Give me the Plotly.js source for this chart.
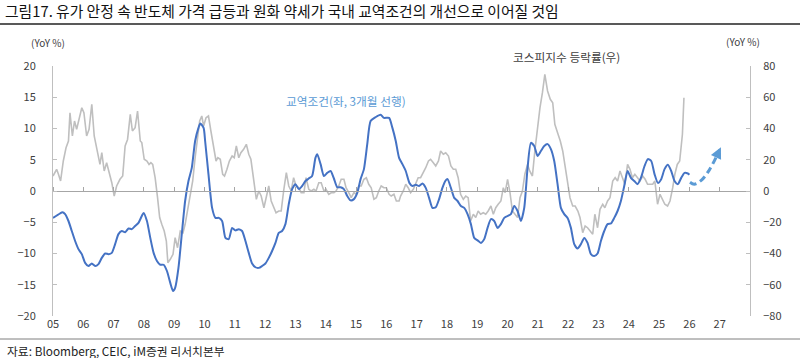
<!DOCTYPE html>
<html>
<head>
<meta charset="utf-8">
<script src="https://cdn.plot.ly/plotly-3.0.1.min.js"></script>
<style>html,body{margin:0;padding:0;background:#fff;}#chart{width:800px;height:358px;}</style>
</head>
<body>
<div id="chart"></div>
<script>
// ---- Data ----
const titleText = '그림17. 유가 안정 속 반도체 가격 급등과 원화 약세가 국내 교역조건의 개선으로 이어질 것임';
const sourceText = '자료: Bloomberg, CEIC, iM증권 리서치본부';
const tradeName = '교역조건(좌, 3개월 선행)';
const kospiName = '코스피지수 등락률(우)';

const yearTicks = [2005,2006,2007,2008,2009,2010,2011,2012,2013,2014,2015,2016,2017,2018,2019,2020,2021,2022,2023,2024,2025,2026,2027];
const yearLabels = ['05','06','07','08','09','10','11','12','13','14','15','16','17','18','19','20','21','22','23','24','25','26','27'];
const leftTicks = [20,15,10,5,0,-5,-10,-15,-20];
const rightTicks = [80,60,40,20,0,-20,-40,-60,-80];

// Terms of trade YoY % (left axis, 3-month lead)
const tradeX = [2005.00,2005.23,2005.31,2005.40,2005.51,2005.62,2005.73,2005.84,2005.95,2006.06,2006.17,2006.28,2006.39,2006.50,2006.61,2006.72,2006.83,2006.94,
2007.05,2007.16,2007.27,2007.38,2007.49,2007.60,2007.71,2007.82,2007.93,2007.99,2008.10,2008.21,2008.32,2008.43,2008.54,2008.65,2008.76,2008.87,2008.96,
2009.03,2009.14,2009.25,2009.36,2009.47,2009.58,2009.69,2009.80,2009.86,2009.97,2010.02,2010.13,2010.25,2010.36,2010.47,2010.58,2010.69,2010.80,2010.91,
2011.02,2011.13,2011.24,2011.35,2011.46,2011.57,2011.68,2011.79,2011.90,2012.01,2012.12,2012.23,2012.34,2012.45,2012.56,2012.67,2012.78,2012.89,
2013.00,2013.11,2013.22,2013.33,2013.44,2013.55,2013.66,2013.72,2013.83,2013.94,2014.05,2014.16,2014.27,2014.38,2014.49,2014.60,2014.71,2014.82,2014.93,
2015.04,2015.15,2015.26,2015.37,2015.48,2015.64,2015.81,2015.92,2016.09,2016.20,2016.31,2016.42,2016.53,2016.64,2016.76,2016.86,2016.97,
2017.08,2017.19,2017.30,2017.41,2017.52,2017.63,2017.74,2017.85,2017.96,2018.02,2018.13,2018.24,2018.35,2018.46,2018.57,2018.68,2018.79,2018.90,
2019.01,2019.12,2019.23,2019.34,2019.45,2019.56,2019.67,2019.78,2019.89,2020.00,2020.11,2020.22,2020.33,2020.44,2020.55,2020.66,2020.77,2020.88,2020.99,
2021.10,2021.21,2021.32,2021.43,2021.54,2021.65,2021.76,2021.87,2021.98,2022.09,2022.20,2022.31,2022.42,2022.53,2022.64,2022.75,2022.86,2022.97,
2023.08,2023.19,2023.30,2023.41,2023.52,2023.63,2023.74,2023.85,2023.96,2024.07,2024.18,2024.29,2024.40,2024.52,2024.63,2024.74,2024.85,2024.96,
2025.07,2025.18,2025.29,2025.40,2025.51,2025.62,2025.73,2025.84,2025.95,2026.00];
const tradeY = [-4.3,-3.6,-3.4,-3.7,-4.8,-6.4,-8.0,-9.3,-10.1,-11.5,-12.0,-11.6,-12.0,-11.7,-10.7,-10.0,-10.1,-9.9,
-8.5,-6.9,-6.4,-6.6,-6.0,-6.1,-5.6,-5.1,-4.0,-3.5,-4.8,-7.5,-9.9,-11.2,-11.8,-11.8,-12.8,-14.7,-16.0,
-15.5,-12.3,-6.9,-1.6,1.6,3.7,8.0,10.1,10.8,10.1,8.0,2.7,-2.7,-4.3,-4.3,-4.8,-7.5,-7.7,-5.9,
-6.3,-6.1,-6.4,-8.0,-9.9,-11.6,-12.2,-12.3,-12.0,-11.6,-10.7,-9.6,-8.3,-6.7,-6.4,-5.3,-2.1,0.3,
1.1,0.3,0.8,1.6,2.0,2.4,5.3,5.9,4.3,2.4,2.9,3.2,2.0,0.6,0.6,0.3,-0.8,-1.5,-1.3,
-0.3,1.9,3.5,7.5,11.2,11.8,12.2,11.7,11.7,10.1,8.0,5.3,4.3,3.2,1.3,0.8,1.0,
0.8,1.2,0.5,-1.1,-2.7,-2.6,-1.3,0.5,1.7,1.9,0.5,-1.1,-1.6,-2.4,-2.7,-3.7,-5.3,-7.5,
-7.9,-8.3,-7.7,-5.9,-4.5,-4.8,-5.9,-5.3,-4.3,-4.0,-3.7,-2.4,-3.2,-4.8,-2.7,3.7,7.7,7.2,5.6,
6.4,7.2,7.5,6.7,4.8,1.1,-2.7,-3.7,-4.3,-5.9,-8.5,-9.2,-8.5,-7.5,-8.3,-10.1,-10.4,-10.0,
-8.0,-6.4,-5.3,-5.2,-4.3,-3.2,-1.6,0.8,3.2,2.1,1.6,1.1,2.1,4.0,5.1,4.8,2.7,1.3,
1.9,3.5,4.2,3.2,1.6,1.1,2.1,2.9,2.8,2.6];

// Expected path (dashed arrow)
const outlookX = [2026.02,2026.16,2026.39,2026.65,2026.88,2027.04];
const outlookY = [1.4,1.1,1.7,3.3,5.4,7.0];

// KOSPI YoY % (right axis)
const kospiX = [2005.00,2005.07,2005.12,2005.18,2005.25,2005.34,2005.43,2005.51,2005.56,2005.64,2005.71,2005.78,2005.87,2005.95,
2006.02,2006.11,2006.19,2006.28,2006.36,2006.42,2006.50,2006.55,2006.61,2006.69,2006.77,2006.85,2006.94,
2007.02,2007.10,2007.21,2007.30,2007.38,2007.46,2007.55,2007.62,2007.71,2007.79,2007.88,2007.93,
2008.01,2008.10,2008.17,2008.23,2008.29,2008.37,2008.45,2008.52,2008.59,2008.67,2008.74,2008.79,2008.87,2008.96,
2009.03,2009.11,2009.20,2009.29,2009.36,2009.44,2009.53,2009.61,2009.69,2009.77,2009.84,2009.91,2009.97,
2010.05,2010.13,2010.21,2010.30,2010.38,2010.44,2010.52,2010.60,2010.66,2010.74,2010.82,2010.91,2010.98,
2011.05,2011.13,2011.20,2011.29,2011.38,2011.46,2011.53,2011.62,2011.71,2011.79,2011.87,2011.96,
2012.03,2012.12,2012.20,2012.28,2012.36,2012.45,2012.53,2012.61,2012.70,2012.78,2012.86,2012.94,
2013.02,2013.11,2013.19,2013.28,2013.35,2013.44,2013.52,2013.61,2013.68,2013.77,2013.85,2013.94,
2014.01,2014.10,2014.18,2014.27,2014.34,2014.43,2014.51,2014.60,2014.67,2014.76,2014.84,2014.93,
2015.01,2015.09,2015.17,2015.26,2015.34,2015.42,2015.50,2015.59,2015.67,2015.75,2015.83,2015.92,
2016.00,2016.09,2016.16,2016.25,2016.33,2016.42,2016.47,2016.56,2016.64,2016.72,2016.80,2016.89,2016.97,
2017.05,2017.13,2017.22,2017.30,2017.39,2017.46,2017.55,2017.63,2017.72,2017.79,2017.88,2017.96,
2018.05,2018.13,2018.21,2018.29,2018.37,2018.45,2018.54,2018.62,2018.70,2018.78,2018.87,2018.95,
2019.03,2019.11,2019.20,2019.28,2019.36,2019.45,2019.53,2019.61,2019.69,2019.78,2019.86,2019.92,
2020.00,2020.08,2020.16,2020.24,2020.33,2020.41,2020.49,2020.57,2020.66,2020.73,2020.82,2020.90,2020.99,
2021.07,2021.15,2021.23,2021.32,2021.41,2021.49,2021.56,2021.65,2021.74,2021.82,2021.89,2021.98,
2022.06,2022.15,2022.23,2022.32,2022.39,2022.48,2022.56,2022.64,2022.73,2022.81,2022.88,2022.97,
2023.05,2023.14,2023.21,2023.30,2023.38,2023.47,2023.55,2023.63,2023.71,2023.80,2023.87,2023.96,
2024.04,2024.12,2024.20,2024.29,2024.37,2024.46,2024.54,2024.62,2024.70,2024.79,2024.86,2024.95,
2025.03,2025.12,2025.19,2025.28,2025.36,2025.45,2025.52,2025.60,2025.68,2025.77,2025.82];
const kospiY = [9.6,11.7,13.9,10.7,6.4,19.2,27.7,32.0,50.0,35.2,44.8,39.5,48.0,53.3,
50.1,35.2,39.5,55.5,35.2,28.8,22.4,17.0,24.5,12.8,18.1,12.8,5.3,
-3.2,3.2,7.5,9.6,28.8,33.0,49.0,38.4,40.5,51.2,32.0,31.0,
20.3,19.2,17.0,18.1,17.0,8.5,-4.3,-17.0,-21.3,-25.6,-32.0,-45.9,-43.7,-40.5,
-29.9,-36.3,-25.6,-26.7,-21.3,-12.8,-2.1,6.4,21.3,33.0,44.8,48.0,41.6,
46.9,48.0,38.4,26.7,19.2,21.3,20.3,10.7,9.6,13.9,19.2,22.4,21.3,
28.8,21.3,24.5,26.7,29.9,23.5,20.3,8.5,-5.3,0.0,-3.2,-10.7,
-4.3,3.2,-6.4,-10.7,-13.9,-12.8,-12.8,0.0,11.7,3.2,0.0,8.5,
3.2,2.1,-1.1,-1.1,8.5,1.1,0.0,1.1,0.0,5.3,5.3,0.0,
1.1,-2.1,-1.1,-1.1,0.0,3.2,7.5,7.5,2.1,-1.1,-4.3,-1.1,
-2.1,3.2,3.2,7.5,8.5,4.3,2.1,-5.3,-4.3,0.0,3.2,2.1,
2.1,-2.1,-3.2,-2.1,-6.4,-6.4,-3.2,0.0,4.3,2.1,-1.1,1.1,5.3,
8.5,8.5,11.7,14.9,19.2,20.3,18.1,16.0,19.2,25.6,23.5,24.5,
22.4,16.0,13.9,13.9,8.5,-2.1,-5.3,-3.2,-4.3,-19.2,-14.9,-17.0,
-12.8,-14.9,-13.9,-14.9,-12.8,-9.6,-14.9,-10.7,-8.5,-6.4,2.1,-1.1,
7.5,-1.1,-12.8,-14.9,-17.0,-4.3,0.0,10.7,17.0,12.8,9.6,25.6,42.7,
53.3,62.9,74.7,64.0,58.7,56.5,42.7,37.3,32.0,25.6,17.0,7.5,
-4.3,-9.6,-9.6,-12.8,-17.0,-26.7,-22.4,-23.5,-25.6,-27.7,-14.9,-23.5,
-11.7,-8.5,-10.7,-6.4,-4.3,6.4,8.5,6.4,12.8,8.5,4.3,17.0,
13.9,8.5,10.7,8.5,6.4,9.6,7.5,4.3,4.3,4.3,6.4,-8.5,
-2.1,-5.3,-8.5,-9.6,-6.4,2.1,10.7,17.0,19.2,36.3,59.7];

// ---- Styles ----
const FONT = 'Noto Sans CJK KR, Noto Sans, sans-serif';
const TXT = '#404040';
const AXC = '#BFBFBF';
const BLUE = '#4472C4';
const LBLUE = '#5B9BD5';
const GRAY = '#BFBFBF';

const nOut = outlookX.length;
const traces = [
  {x: kospiX, y: kospiY, xaxis: 'x', yaxis: 'y', type: 'scatter', mode: 'lines',
   line: {color: GRAY, width: 1.6}, name: kospiName, hoverinfo: 'skip'},
  {x: tradeX, y: tradeY, xaxis: 'x2', yaxis: 'y2', type: 'scatter', mode: 'lines',
   line: {color: BLUE, width: 2, shape: 'spline', smoothing: 0.6}, name: tradeName, hoverinfo: 'skip'},
  {x: outlookX.slice(0, nOut - 1), y: outlookY.slice(0, nOut - 1), xaxis: 'x2', yaxis: 'y2',
   type: 'scatter', mode: 'lines',
   line: {color: LBLUE, width: 3, dash: '7px,4px', shape: 'spline'}, hoverinfo: 'skip'}
];

const L = 53, R = 750, T = 66, B = 316, W = 800;
const px = v => (v - L) / (R - L);
const py = v => (B - v) / (B - T);

const layout = {
  width: 800, height: 358,
  margin: {l: L, r: W - R, t: T, b: 358 - B, pad: 0},
  paper_bgcolor: '#fff', plot_bgcolor: '#fff',
  showlegend: false,
  font: {family: FONT, size: 11, color: TXT},
  title: {text: titleText, x: 5 / 800, xref: 'container', xanchor: 'left',
          y: 1 - 12 / 358, yref: 'container', yanchor: 'middle',
          font: {family: FONT, size: 14.8, color: '#111'}},
  xaxis: {range: [2005, 2028], tickvals: yearTicks, ticktext: yearLabels,
          showgrid: false, zeroline: false, showline: false, ticks: '',
          tickfont: {family: FONT, size: 11, color: TXT}, fixedrange: true},
  xaxis2: {range: [2005, 2028], overlaying: 'x', anchor: 'free', position: 0.5, side: 'top',
           tickvals: yearTicks, showticklabels: false, ticks: 'outside', ticklen: 4,
           tickcolor: '#A6A6A6', showline: true, linecolor: '#A6A6A6', linewidth: 1,
           showgrid: false, zeroline: false},
  yaxis: {range: [-80, 80], tickvals: rightTicks, side: 'right', showgrid: false, zeroline: false,
          showline: true, linecolor: AXC, ticks: 'inside', ticklen: 4, tickcolor: AXC,
          ticklabelstandoff: 10, tickfont: {family: FONT, size: 11, color: TXT}},
  yaxis2: {range: [-20, 20], tickvals: leftTicks, side: 'left', overlaying: 'y', showgrid: false,
           zeroline: false, showline: true, linecolor: AXC, ticks: 'inside', ticklen: 4, tickcolor: AXC,
           ticklabelstandoff: 14, tickfont: {family: FONT, size: 11, color: TXT}},
  shapes: [
    {type: 'line', xref: 'paper', yref: 'paper', x0: px(0), x1: px(800), y0: py(24), y1: py(24),
     line: {color: '#222', width: 1.5}},
    {type: 'line', xref: 'paper', yref: 'paper', x0: px(0), x1: px(800), y0: py(339), y1: py(339),
     line: {color: '#7F7F7F', width: 1}}
  ],
  annotations: [
    {text: '', xref: 'x2', yref: 'y2', axref: 'x2', ayref: 'y2',
     x: outlookX[nOut - 1], y: outlookY[nOut - 1], ax: outlookX[nOut - 2], ay: outlookY[nOut - 2],
     showarrow: true, arrowhead: 2, arrowsize: 0.75, arrowwidth: 3, arrowcolor: LBLUE},
    {text: '(YoY %)', xref: 'paper', yref: 'paper', x: px(47.5), y: py(43), showarrow: false,
     xanchor: 'center', yanchor: 'middle', font: {family: FONT, size: 10, color: TXT}},
    {text: '(YoY %)', xref: 'paper', yref: 'paper', x: px(743), y: py(42), showarrow: false,
     xanchor: 'center', yanchor: 'middle', font: {family: FONT, size: 10, color: TXT}},
    {text: kospiName, xref: 'paper', yref: 'paper', x: px(566), y: py(57), showarrow: false,
     xanchor: 'center', yanchor: 'middle', font: {family: FONT, size: 11.7, color: TXT}},
    {text: tradeName, xref: 'paper', yref: 'paper', x: px(346), y: py(100), showarrow: false,
     xanchor: 'center', yanchor: 'middle', font: {family: FONT, size: 11.7, color: LBLUE}},
    {text: sourceText, xref: 'paper', yref: 'paper', x: px(5), y: py(350), showarrow: false,
     xanchor: 'left', yanchor: 'middle', font: {family: FONT, size: 11.8, color: '#222'}}
  ]
};

Plotly.newPlot('chart', traces, layout, {staticPlot: true, displayModeBar: false});
</script>
</body>
</html>
